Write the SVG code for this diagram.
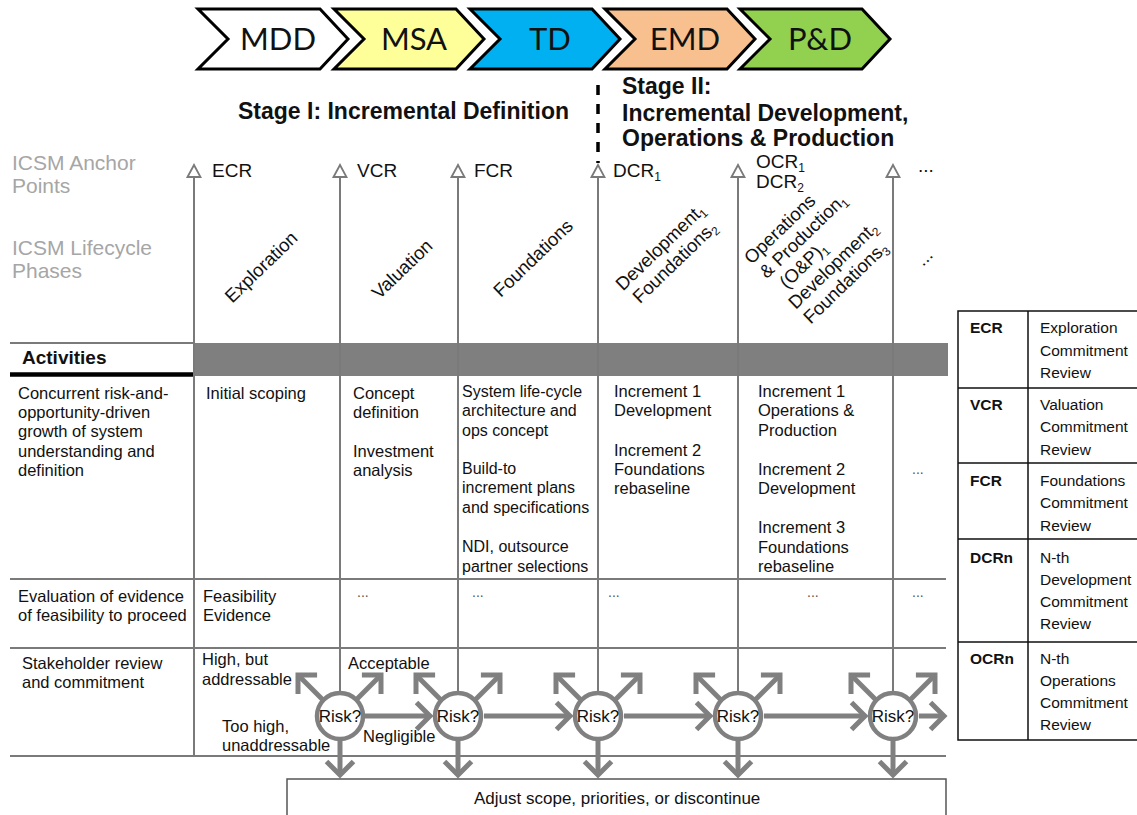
<svg xmlns="http://www.w3.org/2000/svg" width="1137" height="815" viewBox="0 0 1137 815">
<defs>
<style>
text{font-family:"Liberation Sans",Arial,sans-serif;fill:#111}
.chev{stroke:#000;stroke-width:3;stroke-linejoin:miter}
.chevt{font-family:Lato,"Open Sans",sans-serif;font-size:31px;text-anchor:middle;fill:#111}
.stage{font-weight:bold;font-size:23px}
.gray{fill:#a6a6a6;font-size:21px}
.anc{font-size:19px}
.sub{font-size:12px}
.ph{font-size:18.5px;text-anchor:middle}
.row{font-size:16.5px}
.row3{font-size:16px}
.grid{stroke:#7a7a7a;stroke-width:2;fill:none}
.anchor{stroke:#7a7a7a;stroke-width:2;fill:none;marker-end:url(#tri)}
.risk circle{fill:#fff;stroke:#808080;stroke-width:4.5}
.risk text{font-size:17px;text-anchor:middle}
.flow{stroke:#808080;stroke-width:5;fill:none;marker-end:url(#open)}
.dots{fill:#555;font-size:14px}
.lg{font-size:15.5px}
.lgb{font-size:15.5px;font-weight:bold}
</style>
<marker id="tri" markerUnits="userSpaceOnUse" viewBox="-15 -9 18 18" markerWidth="18" markerHeight="18" refX="0" refY="0" orient="auto">
<path d="M-12,-6.5 L0,0 L-12,6.5 Z" fill="#fff" stroke="#7a7a7a" stroke-width="1.8"/>
</marker>
<marker id="open" markerUnits="userSpaceOnUse" viewBox="-20 -20 26 40" markerWidth="26" markerHeight="40" refX="0" refY="0" orient="auto">
<path d="M-13.5,-13.5 L0,0 L-13.5,13.5" fill="none" stroke="#808080" stroke-width="5" stroke-linejoin="miter"/>
</marker>
</defs>

<rect width="1137" height="815" fill="#fff"/>

<!-- acquisition phase chevrons -->
<g id="phase-mdd"><polygon class="chev" fill="#ffffff" points="198,9 320,9 348,39 320,69 198,69 228,39"/><text class="chevt" x="278" y="50">MDD</text></g>
<g id="phase-msa"><polygon class="chev" fill="#ffff99" points="334,9 456,9 484,39 456,69 334,69 364,39"/><text class="chevt" x="414" y="50">MSA</text></g>
<g id="phase-td"><polygon class="chev" fill="#00b0f0" points="470,9 592,9 620,39 592,69 470,69 500,39"/><text class="chevt" x="550" y="50">TD</text></g>
<g id="phase-emd"><polygon class="chev" fill="#f8c08f" points="605,9 727,9 755,39 727,69 605,69 635,39"/><text class="chevt" x="685" y="50">EMD</text></g>
<g id="phase-pd"><polygon class="chev" fill="#92d050" points="740,9 862,9 890,39 862,69 740,69 770,39"/><text class="chevt" x="820" y="50">P&amp;D</text></g>

<!-- stage headings -->
<g id="stage-1"><text class="stage" x="238" y="119">Stage I: Incremental Definition</text></g>
<g id="stage-divider"><path d="M598,85 V163" stroke="#000" stroke-width="3.5" stroke-dasharray="10 9"/></g>
<g id="stage-2">
<text class="stage" x="622" y="94">Stage II:</text>
<text class="stage" x="622" y="121">Incremental Development,</text>
<text class="stage" x="622" y="146">Operations &amp; Production</text>
</g>

<!-- row captions -->
<g id="caption-anchors"><text class="gray" x="12" y="170">ICSM Anchor</text><text class="gray" x="12" y="193">Points</text></g>
<g id="caption-phases"><text class="gray" x="12" y="255">ICSM Lifecycle</text><text class="gray" x="12" y="278">Phases</text></g>

<!-- table grid -->
<g id="grid">
<path class="grid" d="M10,343 H194"/>
<rect x="194" y="343" width="754" height="33" fill="#7f7f7f"/>
<path d="M10,374.5 H193" stroke="#000" stroke-width="4.5"/>
<path class="grid" d="M10,579 H946 M10,648 H946 M10,756 H946"/>
</g>

<!-- anchor point lines -->
<g id="anchor-lines">
<path class="anchor" d="M194,756 V165"/>
<path class="anchor" d="M340,716 V165"/>
<path class="anchor" d="M458,716 V165"/>
<path class="anchor" d="M598,716 V165"/>
<path class="anchor" d="M738,716 V165"/>
<path class="anchor" d="M893,716 V165"/>
</g>

<!-- anchor point labels -->
<g id="anchor-ecr"><text class="anc" x="212" y="177">ECR</text></g>
<g id="anchor-vcr"><text class="anc" x="357" y="177">VCR</text></g>
<g id="anchor-fcr"><text class="anc" x="474" y="177">FCR</text></g>
<g id="anchor-dcr1"><text class="anc" x="613" y="177">DCR<tspan class="sub" dy="4">1</tspan></text></g>
<g id="anchor-ocr1"><text class="anc" x="756" y="168">OCR<tspan class="sub" dy="4">1</tspan></text><text class="anc" x="756" y="188">DCR<tspan class="sub" dy="4">2</tspan></text></g>
<g id="anchor-more"><text class="anc" x="918" y="172">...</text></g>

<!-- lifecycle phases -->
<g id="ph-exploration"><text class="ph" transform="translate(262,268) rotate(-44)" y="5">Exploration</text></g>
<g id="ph-valuation"><text class="ph" transform="translate(403,270) rotate(-44)" y="5">Valuation</text></g>
<g id="ph-foundations"><text class="ph" transform="translate(534,259) rotate(-44)" y="5">Foundations</text></g>
<g id="ph-dev1"><text class="ph" transform="translate(668,255) rotate(-44)"><tspan x="0" y="-5">Development<tspan class="sub" dy="4">1</tspan></tspan><tspan x="0" y="16">Foundations<tspan class="sub" dy="4">2</tspan></tspan></text></g>
<g id="ph-op1"><text class="ph" transform="translate(812,258) rotate(-44)"><tspan x="-3" y="-37">Operations</tspan><tspan x="9" y="-16">&amp; Production<tspan class="sub" dy="4">1</tspan></tspan><tspan x="-11" y="5">(O&amp;P)<tspan class="sub" dy="4">1</tspan></tspan><tspan x="10" y="26">Development<tspan class="sub" dy="4">2</tspan></tspan><tspan x="7" y="47">Foundations<tspan class="sub" dy="4">3</tspan></tspan></text></g>
<g id="ph-more"><text class="ph" transform="translate(925,258) rotate(-44)" y="5">...</text></g>

<!-- activities header -->
<g id="activities-head"><text x="22" y="364" font-size="19" font-weight="bold">Activities</text></g>

<!-- row 1: concurrent growth -->
<g id="row-growth">
<text class="row" x="18" y="399">Concurrent risk-and-</text>
<text class="row" x="18" y="418">opportunity-driven</text>
<text class="row" x="18" y="437">growth of system</text>
<text class="row" x="18" y="457">understanding and</text>
<text class="row" x="18" y="476">definition</text>
<text class="row" x="206" y="399">Initial scoping</text>
<text class="row" x="353" y="399">Concept</text>
<text class="row" x="353" y="418">definition</text>
<text class="row" x="353" y="457">Investment</text>
<text class="row" x="353" y="476">analysis</text>
<text class="row3" x="462" y="397">System life-cycle</text>
<text class="row3" x="462" y="416">architecture and</text>
<text class="row3" x="462" y="436">ops concept</text>
<text class="row3" x="462" y="474">Build-to</text>
<text class="row3" x="462" y="493">increment plans</text>
<text class="row3" x="462" y="513">and specifications</text>
<text class="row3" x="462" y="552">NDI, outsource</text>
<text class="row3" x="462" y="572">partner selections</text>
<text class="row" x="614" y="397">Increment 1</text>
<text class="row" x="614" y="416">Development</text>
<text class="row" x="614" y="456">Increment 2</text>
<text class="row" x="614" y="475">Foundations</text>
<text class="row" x="614" y="494">rebaseline</text>
<text class="row" x="758" y="397">Increment 1</text>
<text class="row" x="758" y="416">Operations &amp;</text>
<text class="row" x="758" y="436">Production</text>
<text class="row" x="758" y="475">Increment 2</text>
<text class="row" x="758" y="494">Development</text>
<text class="row" x="758" y="533">Increment 3</text>
<text class="row" x="758" y="553">Foundations</text>
<text class="row" x="758" y="572">rebaseline</text>
<text class="dots" x="912" y="474">...</text>
</g>

<!-- row 2: feasibility evidence -->
<g id="row-evidence">
<text class="row" x="18" y="602">Evaluation of evidence</text>
<text class="row" x="18" y="621">of feasibility to proceed</text>
<text class="row" x="203" y="602">Feasibility</text>
<text class="row" x="203" y="621">Evidence</text>
<text class="dots" x="357" y="597">...</text>
<text class="dots" x="472" y="597">...</text>
<text class="dots" x="608" y="597">...</text>
<text class="dots" x="807" y="597">...</text>
<text class="dots" x="912" y="597">...</text>
</g>

<!-- row 3: stakeholder review -->
<g id="row-review">
<text class="row" x="22" y="669">Stakeholder review</text>
<text class="row" x="22" y="688">and commitment</text>
<text class="row" x="202" y="665">High, but</text>
<text class="row" x="202" y="685">addressable</text>
<text class="row" x="348" y="669">Acceptable</text>
<text class="row" x="222" y="732">Too high,</text>
<text class="row" x="222" y="751">unaddressable</text>
<text class="row" x="363" y="742">Negligible</text>
</g>

<!-- risk flow connectors -->
<g id="connectors">
<path class="flow" d="M323,700 L298,675"/><path class="flow" d="M356,700 L381,675"/>
<path class="flow" d="M441,700 L416,675"/><path class="flow" d="M475,700 L500,675"/>
<path class="flow" d="M581,700 L556,675"/><path class="flow" d="M615,700 L640,675"/>
<path class="flow" d="M721,700 L696,675"/><path class="flow" d="M755,700 L780,675"/>
<path class="flow" d="M876,700 L851,675"/><path class="flow" d="M910,700 L935,675"/>
<path class="flow" d="M365,716 H430"/>
<path class="flow" d="M484,716 H570"/>
<path class="flow" d="M624,716 H710"/>
<path class="flow" d="M764,716 H865"/>
<path class="flow" d="M919,716 H944"/>
<path class="flow" d="M340,741 V775"/>
<path class="flow" d="M458,741 V775"/>
<path class="flow" d="M598,741 V775"/>
<path class="flow" d="M738,741 V775"/>
<path class="flow" d="M893,741 V775"/>
</g>

<!-- risk decision points -->
<g id="risk-1" class="risk"><circle cx="340" cy="716" r="23"/><text x="340" y="722">Risk?</text></g>
<g id="risk-2" class="risk"><circle cx="458" cy="716" r="23"/><text x="458" y="722">Risk?</text></g>
<g id="risk-3" class="risk"><circle cx="598" cy="716" r="23"/><text x="598" y="722">Risk?</text></g>
<g id="risk-4" class="risk"><circle cx="738" cy="716" r="23"/><text x="738" y="722">Risk?</text></g>
<g id="risk-5" class="risk"><circle cx="893" cy="716" r="23"/><text x="893" y="722">Risk?</text></g>

<!-- adjustment box -->
<g id="adjust">
<rect x="287" y="779" width="659" height="60" fill="#fff" stroke="#555" stroke-width="1.5"/>
<text x="474" y="804" font-size="17">Adjust scope, priorities, or discontinue</text>
</g>

<!-- abbreviation legend -->
<g id="legend">
<rect x="958" y="311" width="200" height="429" fill="#fff" stroke="#111" stroke-width="1.5"/>
<path d="M1028,311 V740 M958,388 H1158 M958,463 H1158 M958,539 H1158 M958,642 H1158" stroke="#111" stroke-width="1.5"/>
<text class="lgb" x="970" y="333">ECR</text>
<text class="lg" x="1040" y="333">Exploration</text>
<text class="lg" x="1040" y="356">Commitment</text>
<text class="lg" x="1040" y="378">Review</text>
<text class="lgb" x="970" y="410">VCR</text>
<text class="lg" x="1040" y="410">Valuation</text>
<text class="lg" x="1040" y="432">Commitment</text>
<text class="lg" x="1040" y="455">Review</text>
<text class="lgb" x="970" y="486">FCR</text>
<text class="lg" x="1040" y="486">Foundations</text>
<text class="lg" x="1040" y="508">Commitment</text>
<text class="lg" x="1040" y="531">Review</text>
<text class="lgb" x="970" y="563">DCRn</text>
<text class="lg" x="1040" y="563">N-th</text>
<text class="lg" x="1040" y="585">Development</text>
<text class="lg" x="1040" y="607">Commitment</text>
<text class="lg" x="1040" y="629">Review</text>
<text class="lgb" x="970" y="664">OCRn</text>
<text class="lg" x="1040" y="664">N-th</text>
<text class="lg" x="1040" y="686">Operations</text>
<text class="lg" x="1040" y="708">Commitment</text>
<text class="lg" x="1040" y="730">Review</text>
</g>
</svg>
